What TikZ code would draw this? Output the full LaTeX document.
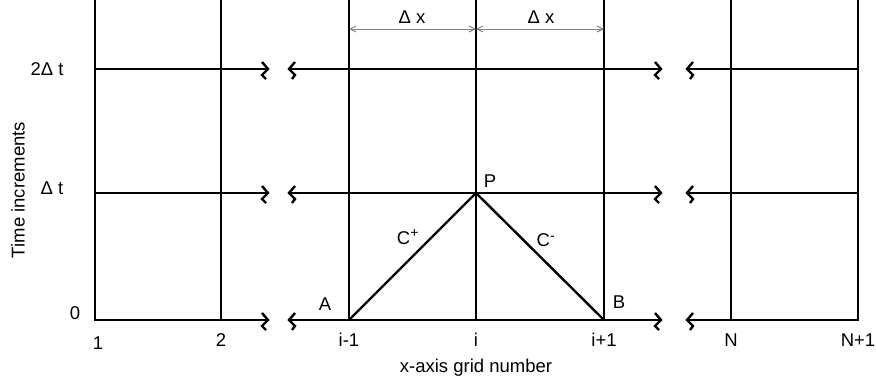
\documentclass[tikz,border=0pt]{standalone}
\usepackage{fontspec}
\setmainfont{Liberation Sans}
\usetikzlibrary{arrows.meta}
\begin{document}
\begin{tikzpicture}[x=1pt,y=-1pt,
  grid/.style={line width=2.4pt,line cap=rect},
  vgrid/.style={line width=2.7pt},
  brk/.style={line width=2.4pt,line join=miter},
  dim/.style={gray,line width=0.9pt,{Straight Barb[length=6pt,width=6pt]}-{Straight Barb[length=6pt,width=6pt]}},
  lbl/.style={font=\fontsize{18.5}{21}\selectfont,inner sep=0pt},
  char/.style={line width=2.4pt}]
\useasboundingbox (0,0) rectangle (876,388);
% grid points
\foreach \n/\x in {c1/95,c2/221,cim/349,ci/476,cip/604,cN/731,cNp/858}{
  \coordinate (\n-top) at (\x,0);
  \coordinate (\n-0) at (\x,320);
  \coordinate (\n-1) at (\x,193);
  \coordinate (\n-2) at (\x,69);
}
% verticals
\foreach \n in {c1,c2,cim,ci,cip,cN,cNp}{
  \draw[vgrid] (\n-top) -- (\n-0);
}
% horizontals with breaks
\foreach \r/\y in {0/320,1/193,2/69}{
  \coordinate (bl\r) at (268,\y);
  \coordinate (br\r) at (289,\y);
  \coordinate (bl2\r) at (661,\y);
  \coordinate (br2\r) at (687,\y);
  \draw[grid] (c1-\r) -- (bl\r);
  \draw[grid] (br\r) -- (bl2\r);
  \draw[grid] (br2\r) -- (cNp-\r);
  \foreach \p in {bl\r,bl2\r}{
    \draw[brk] ([shift={(-6,-7)}]\p) -- (\p) -- ([shift={(-6,6)}]\p) -- ([shift={(-2,10)}]\p);
  }
  \foreach \p in {br\r,br2\r}{
    \draw[brk] ([shift={(6,-7)}]\p) -- (\p) -- ([shift={(6,6)}]\p) -- ([shift={(3,10)}]\p);
  }
}
% characteristics
\draw[char] (cim-0) -- (ci-1) -- (cip-0);
% dimension arrows
\coordinate (d1) at (349,29);
\coordinate (d2) at (476,29);
\coordinate (d3) at (604,29);
\draw[dim] (d1) -- (d2);
\draw[dim] (d2) -- (d3);
\node[lbl] (dx1) at (412,17) {Δ x};
\node[lbl] (dx2) at (541,17) {Δ x};
% labels
\node[lbl] (n1) at (98,343) {1};
\node[lbl] (n2) at (221,340) {2};
\node[lbl] (nim) at (349,340) {i-1};
\node[lbl] (ni) at (476,340) {i};
\node[lbl] (nip) at (604,340) {i+1};
\node[lbl] (nN) at (731,340) {N};
\node[lbl] (nNp) at (858,340) {N+1};
\node[lbl] (t0) at (75,313) {0};
\node[lbl] (t1) at (52,188) {Δ t};
\node[lbl] (t2) at (47,69) {2Δ t};
\node[lbl] (xlab) at (476,368) {x-axis grid number};
\node[lbl,rotate=90] (ylab) at (18,190) {Time increments};
\node[lbl] (A) at (325,304) {A};
\node[lbl] (B) at (619,302) {B};
\node[lbl] (P) at (490,181) {P};
\node[lbl] (Cp) at (408,237) {C$^{\mbox{\fontsize{14}{14}\selectfont +}}$};
\node[lbl] (Cm) at (546,240) {C$^{\mbox{\fontsize{14}{14}\selectfont -}}$};
\end{tikzpicture}
\end{document}
